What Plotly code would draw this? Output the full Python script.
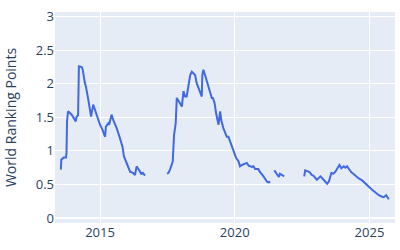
import plotly.graph_objects as go

dates = [
    "2013-07-19", "2013-07-26", "2013-08-29", "2013-09-27", "2013-10-04", "2013-10-11",
    "2013-10-25", "2013-12-13", "2014-02-07", "2014-02-17", "2014-03-10", "2014-03-21",
    "2014-04-28", "2014-05-12", "2014-06-10", "2014-06-24", "2014-07-27", "2014-09-02",
    "2014-10-01", "2014-11-17", "2015-01-01", "2015-02-06", "2015-03-11", "2015-03-22",
    "2015-04-24", "2015-05-05", "2015-06-07", "2015-06-29", "2015-08-15", "2015-09-28",
    "2015-11-03", "2015-11-21", "2015-12-28", "2016-02-13", "2016-03-28", "2016-04-19",
    "2016-05-11", "2016-06-06", "2016-06-28", "2016-07-19", "2016-07-30", "2016-09-02",
    "2017-01-01",
    "2017-06-28", "2017-07-16", "2017-08-07", "2017-09-02", "2017-09-13", "2017-10-01",
    "2017-10-12", "2017-10-23", "2017-11-07", "2017-12-20", "2018-01-15", "2018-02-06",
    "2018-02-28", "2018-03-21", "2018-04-12", "2018-05-08", "2018-05-30", "2018-06-21",
    "2018-07-13", "2018-08-04", "2018-09-20", "2018-10-12", "2018-10-19", "2018-11-03",
    "2018-11-25", "2018-12-20", "2019-01-23", "2019-02-24", "2019-03-11", "2019-04-02",
    "2019-04-24", "2019-05-27", "2019-06-18", "2019-07-02", "2019-07-31", "2019-09-16",
    "2019-10-08", "2019-11-10", "2019-12-16", "2020-01-22", "2020-02-20", "2020-03-13",
    "2020-04-08", "2020-04-30", "2020-06-13", "2020-07-08", "2020-08-21", "2020-09-12",
    "2020-10-04", "2020-11-17", "2020-12-05", "2021-01-26", "2021-03-14", "2021-04-05",
    "2021-04-27",
    "2021-05-20",
    "2021-06-21", "2021-07-27", "2021-08-22", "2021-09-05", "2021-10-04", "2021-11-02",
    "2022-03-01",
    "2022-07-31", "2022-08-14", "2022-09-27", "2022-10-15", "2022-11-10", "2022-12-02",
    "2023-01-19", "2023-03-08", "2023-04-20", "2023-06-07", "2023-06-29", "2023-08-04",
    "2023-09-02", "2023-09-27", "2023-11-10", "2023-11-21", "2023-12-17", "2024-01-19",
    "2024-02-10", "2024-03-03", "2024-03-29", "2024-05-01", "2024-05-27", "2024-07-02",
    "2024-08-08", "2024-09-24", "2024-11-07", "2024-12-20", "2025-02-06", "2025-03-22",
    "2025-05-08", "2025-06-14", "2025-07-13", "2025-08-15", "2025-08-29", "2025-09-20",
]

points = [
    0.72, 0.87, 0.90, 0.90, 0.97, 1.44,
    1.59, 1.54, 1.44, 1.51, 1.53, 2.26,
    2.25, 2.21, 2.01, 1.96, 1.76, 1.51,
    1.69, 1.54, 1.39, 1.31, 1.21, 1.36,
    1.41, 1.39, 1.54, 1.46, 1.34, 1.19,
    1.06, 0.92, 0.82, 0.69, 0.67, 0.64,
    0.77, 0.72, 0.67, 0.65, 0.68, 0.63,
    None,
    0.66, 0.67, 0.72, 0.82, 0.84, 1.24,
    1.39, 1.41, 1.79, 1.71, 1.66, 1.89,
    1.81, 1.81, 1.94, 2.13, 2.18, 2.16,
    2.13, 2.01, 1.89, 1.81, 2.13, 2.21,
    2.13, 2.03, 1.89, 1.79, 1.79, 1.72,
    1.56, 1.39, 1.59, 1.46, 1.34, 1.21,
    1.21, 1.11, 0.99, 0.89, 0.85, 0.77,
    0.79, 0.80, 0.82, 0.78, 0.76, 0.77,
    0.73, 0.73, 0.69, 0.62, 0.54, 0.53,
    0.54,
    None,
    0.71, 0.64, 0.61, 0.66, 0.64, 0.62,
    None,
    0.62, 0.71, 0.69, 0.68, 0.64, 0.63,
    0.57, 0.62, 0.57, 0.51, 0.54, 0.67,
    0.66, 0.69, 0.77, 0.79, 0.74, 0.77,
    0.75, 0.77, 0.73, 0.68, 0.66, 0.62,
    0.59, 0.56, 0.52, 0.47, 0.42, 0.38,
    0.34, 0.32, 0.31, 0.34, 0.31, 0.28,
]

y_ticks = [0, 0.5, 1, 1.5, 2, 2.5, 3]
y_tick_labels = ["0", "0.5", "1", "1.5", "2", "2.5", "3"]

fig = go.Figure(
    go.Scatter(
        x=dates, y=points, mode="lines",
        line=dict(color="royalblue", width=2),
        connectgaps=False,
    )
)

fig.update_layout(
    width=400, height=250,
    margin=dict(l=55, r=5, t=12, b=27),
    template="plotly",
    showlegend=False,
    font=dict(family="Open Sans", color="#2a3f5f"),
)
fig.update_xaxes(
    range=["2013-05-01", "2025-12-13"],
    tickvals=["2015-01-01", "2020-01-01", "2025-01-01"],
    ticktext=["2015", "2020", "2025"],
    tickfont=dict(size=13),
)
fig.update_yaxes(
    range=[-0.075, 3.07],
    tickvals=y_ticks, ticktext=y_tick_labels,
    tickfont=dict(size=13),
    title=dict(text="World Ranking Points", font=dict(size=14)),
)

fig.write_html("out.html")
